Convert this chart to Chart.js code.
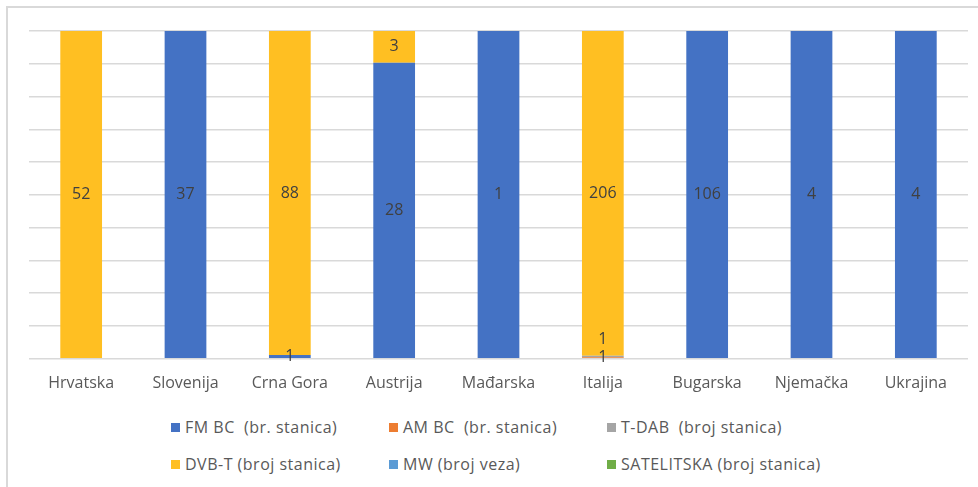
<!DOCTYPE html>
<html>
<head>
<meta charset="utf-8">
<script src="https://cdn.jsdelivr.net/npm/chart.js@4.4.1/dist/chart.umd.min.js"></script>
<style>
  html, body { margin: 0; padding: 0; background: #fff; }
  #wrap { position: relative; width: 978px; height: 487px; overflow: hidden; font-family: "Open Sans", sans-serif; }
  #frame { position: absolute; left: 6px; top: 6px; width: 990px; height: 500px; border-top: 2px solid #d9d9d9; border-left: 2px solid #d9d9d9; box-sizing: border-box; }
  #box { position: absolute; left: 0; top: 0; width: 978px; height: 416px; }
  #legend { position: absolute; left: 171px; top: 416px; display: grid; grid-template-columns: 218px 218px 250px; row-gap: 15px; font-size: 16px; letter-spacing: 0.5px; color: #595959; }
  .item { display: flex; align-items: center; height: 22px; white-space: pre; }
  .sw { width: 9px; height: 9px; margin-right: 5px; flex: none; }
</style>
</head>
<body>
<div id="wrap">
  <div id="frame"></div>
  <div id="box"><canvas id="c"></canvas></div>
  <div id="legend"></div>
</div>
<script>
const categories = ['Hrvatska', 'Slovenija', 'Crna Gora', 'Austrija', 'Mađarska', 'Italija', 'Bugarska', 'Njemačka', 'Ukrajina'];
const seriesNames = ['FM BC  (br. stanica)', 'AM BC  (br. stanica)', 'T-DAB  (broj stanica)', 'DVB-T (broj stanica)', 'MW (broj veza)', 'SATELITSKA (broj stanica)'];
const fmBC    = [0, 37, 1, 28, 1, 0, 106, 4, 4];
const amBC    = [0, 0, 0, 0, 0, 1, 0, 0, 0];
const tDAB    = [0, 0, 0, 0, 0, 1, 0, 0, 0];
const dvbT    = [52, 0, 88, 3, 0, 206, 0, 0, 0];
const mwVeze  = [0, 0, 0, 0, 0, 0, 0, 0, 0];
const satelit = [0, 0, 0, 0, 0, 0, 0, 0, 0];
const percentTicks = [0, 10, 20, 30, 40, 50, 60, 70, 80, 90, 100];

const seriesValues = [fmBC, amBC, tDAB, dvbT, mwVeze, satelit];
const colors = ['#4472C4', '#ED7D31', '#A5A5A5', '#FFBF22', '#5B9BD5', '#70AD47'];

const totals = categories.map((_, i) => seriesValues.reduce((s, arr) => s + arr[i], 0));

const datasets = seriesValues.map((arr, k) => ({
  label: seriesNames[k],
  raw: arr,
  data: arr.map((v, i) => totals[i] ? v / totals[i] * 100 : 0),
  backgroundColor: colors[k],
  borderWidth: 0,
  barPercentage: 0.4,
  categoryPercentage: 1.0
}));

const labelPlugin = {
  id: 'valueLabels',
  afterDatasetsDraw(chart) {
    const ctx = chart.ctx;
    ctx.save();
    ctx.font = '16px "Open Sans", sans-serif';
    ctx.fillStyle = '#404040';
    ctx.textAlign = 'center';
    ctx.textBaseline = 'middle';
    const lastY = {};
    chart.data.datasets.forEach((ds, k) => {
      const meta = chart.getDatasetMeta(k);
      meta.data.forEach((el, i) => {
        const v = ds.raw[i];
        if (!v) return;
        let y = (el.y + el.base) / 2;
        if (lastY[i] !== undefined && lastY[i] - y < 18) y = lastY[i] - 18;
        lastY[i] = y;
        ctx.fillText(String(v), el.x, y);
      });
    });
    ctx.restore();
  }
};

const chart = new Chart(document.getElementById('c'), {
  type: 'bar',
  data: { labels: categories, datasets },
  options: {
    responsive: true,
    maintainAspectRatio: false,
    animation: false,
    layout: { padding: { left: 29, right: 10, top: 31, bottom: 8 } },
    plugins: { legend: { display: false }, tooltip: { enabled: false } },
    scales: {
      x: {
        stacked: true,
        grid: { display: false, drawTicks: false },
        border: { display: false },
        ticks: { color: '#595959', font: { family: '"Open Sans", sans-serif', size: 16 }, padding: 15, maxRotation: 0 }
      },
      y: {
        stacked: true,
        min: 0,
        max: 100,
        afterBuildTicks: (axis) => { axis.ticks = percentTicks.map(v => ({ value: v })); },
        grid: { color: '#d9d9d9', lineWidth: 1.5, drawTicks: false },
        border: { display: false },
        ticks: { display: false }
      }
    }
  },
  plugins: [labelPlugin]
});

const legend = document.getElementById('legend');
chart.data.datasets.forEach(ds => {
  const item = document.createElement('div');
  item.className = 'item';
  const sw = document.createElement('span');
  sw.className = 'sw';
  sw.style.background = ds.backgroundColor;
  const tx = document.createElement('span');
  tx.textContent = ds.label;
  item.appendChild(sw);
  item.appendChild(tx);
  legend.appendChild(item);
});
</script>
</body>
</html>
